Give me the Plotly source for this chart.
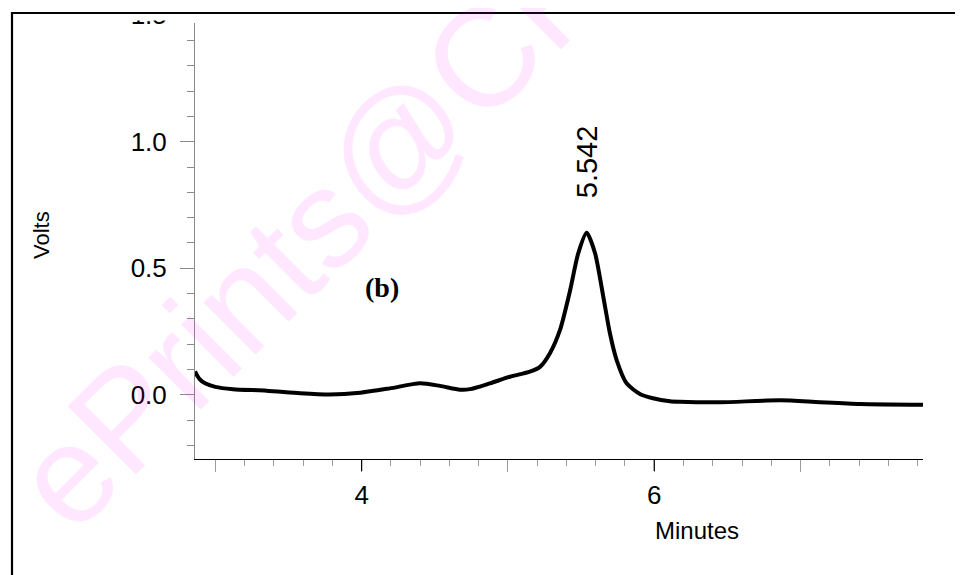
import plotly.graph_objects as go

# ---- data ----
minutes = [2.861, 2.88, 2.895, 2.93, 3.00, 3.12, 3.35, 3.58, 3.78, 3.99,
           4.193, 4.40, 4.535, 4.672, 4.74, 4.877, 5.014, 5.150, 5.219, 5.287,
           5.356, 5.424, 5.481, 5.538, 5.595, 5.651, 5.697, 5.743, 5.811, 5.902,
           5.991, 6.107, 6.175, 6.449, 6.860, 7.133, 7.407, 7.837]
volts = [0.092, 0.072, 0.060, 0.045, 0.031, 0.022, 0.016, 0.006, 0.001, 0.008,
         0.025, 0.045, 0.035, 0.020, 0.022, 0.045, 0.071, 0.091, 0.110, 0.164,
         0.256, 0.410, 0.560, 0.640, 0.560, 0.390, 0.243, 0.137, 0.045, 0.003,
         -0.014, -0.026, -0.028, -0.030, -0.022, -0.030, -0.037, -0.040]

peak_time = 5.542
peak_label = "5.542"
panel_label = "(b)"
x_major = [3, 4, 5, 6, 7]
x_labels = ["", "4", "", "6", ""]
x_black = [4, 6]
y_major = [-0.5, 0.0, 0.5, 1.0, 1.5]
y_labels = ["-0.5", "0.0", "0.5", "1.0", "1.5"]

OFF = 8  # page body margin
W, H = 963 - OFF, 575 - OFF
L, R, T, B = 187, 40, 0, 116
PW, PH = W - L - R, H - T - B


def pxx(px):
    # screen pixel -> paper x
    return (px - OFF - L) / PW


def pxy(py):
    # screen pixel -> paper y
    return 1 - (py - OFF - T) / PH


fig = go.Figure()
fig.add_trace(go.Scatter(
    x=minutes, y=volts, mode="lines",
    line=dict(color="black", width=4, shape="spline", smoothing=0.7),
    hoverinfo="skip", showlegend=False))

font = "Arial, Liberation Sans, sans-serif"

fig.update_layout(
    width=W, height=H,
    margin=dict(l=L, r=R, t=T, b=B, pad=0, autoexpand=False),
    paper_bgcolor="white", plot_bgcolor="white",
    xaxis=dict(range=[2.861, 7.837], showgrid=False, zeroline=False,
               automargin=False,
               showline=True, linecolor="black", linewidth=1,
               ticks="outside", ticklen=12, tickcolor="#9a9a9a", tickwidth=1,
               tickmode="array", tickvals=x_major, ticktext=x_labels,
               tickfont=dict(family=font, size=26, color="black"),
               ticklabelstandoff=1,
               minor=dict(dtick=0.2, tick0=0, ticks="outside", ticklen=6,
                          tickcolor="#9a9a9a", tickwidth=1, showgrid=False)),
    yaxis=dict(range=[-0.2541, 1.5285], showgrid=False, zeroline=False,
               automargin=False,
               showline=True, linecolor="#8a8a8a", linewidth=1,
               ticks="outside", ticklen=14, tickcolor="#8a8a8a", tickwidth=1,
               tickmode="array", tickvals=y_major, ticktext=y_labels,
               tickfont=dict(family=font, size=26, color="black"),
               ticklabelstandoff=8, ticklabeloverflow="allow",
               minor=dict(dtick=0.1, tick0=0, ticks="outside", ticklen=7,
                          tickcolor="#8a8a8a", tickwidth=1, showgrid=False)),
)

shapes = []
for xv in x_black:
    shapes.append(dict(type="line", xref="x", yref="paper", x0=xv, x1=xv,
                       ysizemode="pixel", yanchor=0, y0=0, y1=-12,
                       line=dict(color="black", width=1.2), layer="above"))
shapes.append(dict(type="rect", xref="paper", yref="paper",
                   x0=pxx(-20), x1=pxx(990), y0=pxy(13), y1=pxy(-20),
                   fillcolor="white", line=dict(width=0), layer="above"))
shapes.append(dict(type="rect", xref="paper", yref="paper",
                   x0=pxx(110), x1=pxx(200), y0=pxy(20.5), y1=pxy(12),
                   fillcolor="white", line=dict(width=0), layer="above"))
shapes.append(dict(type="rect", xref="paper", yref="paper",
                   x0=pxx(173), x1=pxx(200), y0=pxy(23), y1=pxy(12),
                   fillcolor="white", line=dict(width=0), layer="above"))
shapes.append(dict(type="rect", xref="paper", yref="paper",
                   x0=pxx(12), x1=pxx(990), y0=pxy(600), y1=pxy(13),
                   fillcolor="rgba(0,0,0,0)", line=dict(color="black", width=2.2),
                   layer="above"))
fig.update_layout(shapes=shapes)

ann = []
ann.append(dict(xref="paper", yref="paper", x=pxx(388), y=pxy(153),
                text="ePrints@CFTRI", showarrow=False, textangle=-45,
                font=dict(family=font, size=140, color="rgba(255,0,255,0.09)"),
                xanchor="center", yanchor="middle"))
ann.append(dict(xref="x", yref="paper", x=peak_time, y=pxy(162),
                text=peak_label, showarrow=False, textangle=-90,
                font=dict(family=font, size=29, color="black"),
                xanchor="center", yanchor="middle"))
ann.append(dict(xref="paper", yref="paper", x=pxx(382), y=pxy(287),
                text="<b>" + panel_label + "</b>", showarrow=False,
                font=dict(family="Liberation Serif, Times New Roman, serif",
                          size=28, color="black"),
                xanchor="center", yanchor="middle"))
ann.append(dict(xref="paper", yref="paper", x=pxx(697), y=pxy(530),
                text="Minutes", showarrow=False,
                font=dict(family=font, size=24, color="black"),
                xanchor="center", yanchor="middle"))
ann.append(dict(xref="paper", yref="paper", x=pxx(41), y=pxy(235),
                text="Volts", showarrow=False, textangle=-90,
                font=dict(family=font, size=22, color="black"),
                xanchor="center", yanchor="middle"))
fig.update_layout(annotations=ann)

fig.write_html("out.html")
